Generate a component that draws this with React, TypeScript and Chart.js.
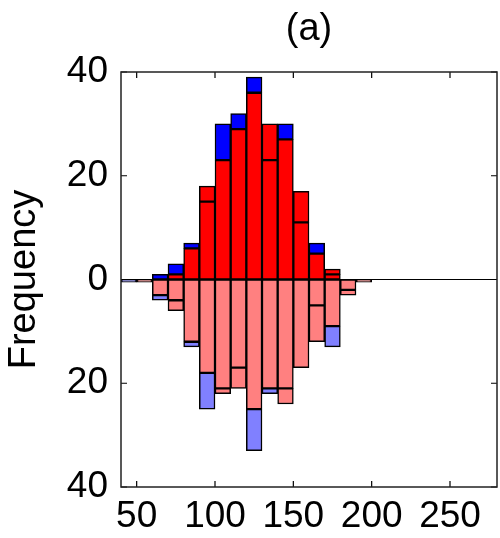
import React, { useEffect, useRef } from "react";
import { Chart, registerables } from "chart.js";

Chart.register(...registerables);

// Bin centres (bin width 10)
const binCenters = [45, 55, 65, 75, 85, 95, 105, 115, 125, 135, 145, 155, 165, 175, 185, 195];

// Upper histogram (positive)
const upperRed = [0, 0, 0, 1, 6, 15, 23, 29, 36, 23, 27, 11, 5, 1, 0, 0];
const upperRedExtra = [0, 0, 0, 0, 0, 3, 0, 0, 0, 7, 0, 6, 0, 1, 0, 0];
const upperBlue = [0, 0, 1, 2, 1, 0, 7, 3, 3, 0, 3, 0, 2, 0, 0, 0];

// Lower histogram (drawn downward)
const lowerRed = [0, 0.5, 3, 4, 12, 18, 21, 17, 25, 21, 21, 17, 5, 9, 2, 0.5];
const lowerRedExtra = [0, 0, 0, 2, 0, 0, 1, 4, 0, 0, 3, 0, 7, 0, 1, 0];
const lowerBlue = [0.5, 0, 1, 0, 1, 7, 0, 0, 8, 1, 0, 0, 0, 4, 0, 0];

const xTicks = [50, 100, 150, 200, 250];
const yTicks = [-40, -20, 0, 20, 40];
const titleText = "(a)";

const FONT = "'Liberation Sans', Arial, Helvetica, sans-serif";

function toPoints(values: number[], sign: number) {
  return binCenters
    .map((c, i) => ({ x: c, y: values[i] * sign }))
    .filter((p) => p.y !== 0);
}

const frame = {
  id: "matlabFrame",
  afterDatasetsDraw(chart: any) {
    const { ctx, chartArea: a, scales } = chart;
    const x = scales.x;
    const y = scales.y;
    ctx.save();
    ctx.strokeStyle = "#000";
    ctx.lineWidth = 1.2;
    const y0 = y.getPixelForValue(0);
    ctx.beginPath();
    ctx.moveTo(a.left, y0);
    ctx.lineTo(a.right, y0);
    ctx.stroke();
    const t = 6;
    ctx.beginPath();
    xTicks.forEach((v) => {
      const px = x.getPixelForValue(v);
      ctx.moveTo(px, a.bottom);
      ctx.lineTo(px, a.bottom - t);
      ctx.moveTo(px, a.top);
      ctx.lineTo(px, a.top + t);
    });
    yTicks.forEach((v) => {
      const py = y.getPixelForValue(v);
      ctx.moveTo(a.left, py);
      ctx.lineTo(a.left + t, py);
      ctx.moveTo(a.right, py);
      ctx.lineTo(a.right - t, py);
    });
    ctx.stroke();
    ctx.strokeStyle = "#222";
    ctx.lineWidth = 1.5;
    ctx.strokeRect(a.left, a.top, a.right - a.left, a.bottom - a.top);
    // title centred over the axes
    ctx.fillStyle = "#000";
    ctx.font = `38px ${FONT}`;
    ctx.textAlign = "center";
    ctx.textBaseline = "middle";
    ctx.fillText(titleText, (a.left + a.right) / 2, 30);
    ctx.restore();
  },
};

export default function App() {
  const ref = useRef<HTMLCanvasElement | null>(null);

  useEffect(() => {
    if (!ref.current) return;
    const common = {
      borderColor: "#000",
      borderWidth: 1.5,
      borderSkipped: false,
      barPercentage: 1,
      categoryPercentage: 1,
    };
    const chart = new Chart(ref.current, {
      type: "bar",
      data: {
        datasets: [
          { label: "upper red", data: toPoints(upperRed, 1), backgroundColor: "#ff0000", ...common },
          { label: "upper red 2", data: toPoints(upperRedExtra, 1), backgroundColor: "#ff0000", ...common },
          { label: "upper blue", data: toPoints(upperBlue, 1), backgroundColor: "#0000ff", ...common },
          { label: "lower red", data: toPoints(lowerRed, -1), backgroundColor: "#ff8080", ...common },
          { label: "lower red 2", data: toPoints(lowerRedExtra, -1), backgroundColor: "#ff8080", ...common },
          { label: "lower blue", data: toPoints(lowerBlue, -1), backgroundColor: "#8080ff", ...common },
        ] as any,
      },
      options: {
        responsive: false,
        animation: false,
        layout: { padding: { left: 0, right: 3, top: 72, bottom: 0 } },
        plugins: {
          legend: { display: false },
          tooltip: { enabled: false },
          title: { display: false },
        },
        scales: {
          x: {
            type: "linear",
            min: 40,
            max: 280,
            offset: false,
            stacked: true,
            grid: { display: false, drawTicks: false, offset: false },
            border: { display: false },
            afterBuildTicks: (s: any) => {
              s.ticks = xTicks.map((v) => ({ value: v }));
            },
            afterFit: (s: any) => {
              s.height = 51;
            },
            ticks: {
              color: "#000",
              font: { family: FONT, size: 37 },
              padding: 8,
              maxRotation: 0,
              autoSkip: false,
            },
          },
          y: {
            type: "linear",
            min: -40,
            max: 40,
            stacked: true,
            grid: { display: false, drawTicks: false },
            border: { display: false },
            afterBuildTicks: (s: any) => {
              s.ticks = yTicks.map((v) => ({ value: v }));
            },
            afterFit: (s: any) => {
              s.width = 121;
            },
            ticks: {
              color: "#000",
              font: { family: FONT, size: 37 },
              padding: 13,
              callback: (v: any) => String(Math.abs(Number(v))),
            },
            title: {
              display: true,
              text: "Frequency",
              color: "#000",
              font: { family: FONT, size: 38 },
              padding: { top: 2, bottom: 0 },
            },
          },
        },
      },
      plugins: [frame],
    } as any);
    return () => chart.destroy();
  }, []);

  return (
    <div style={{ position: "absolute", left: 0, top: 0, width: 500, height: 538, background: "#fff" }}>
      <canvas ref={ref} width={500} height={538} style={{ display: "block" }} />
    </div>
  );
}
